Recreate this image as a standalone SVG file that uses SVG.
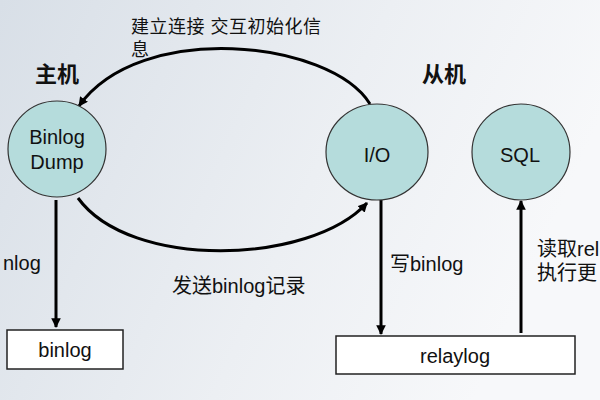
<svg xmlns="http://www.w3.org/2000/svg" width="600" height="400" viewBox="0 0 600 400">
<defs>
<linearGradient id="bg" x1="0" y1="0" x2="1" y2="0.3">
<stop offset="0" stop-color="#d8dfe7"/>
<stop offset="0.6" stop-color="#eceff3"/>
<stop offset="1" stop-color="#f7f8fa"/>
</linearGradient>
<marker id="ah" viewBox="0 0 10 10" refX="9" refY="5" markerWidth="3.2" markerHeight="3.2" orient="auto" markerUnits="strokeWidth">
<path d="M0,0 L10,5 L0,10 z" fill="#000"/>
</marker>
<style>
.node{fill:#b5dcdc;stroke:#333;stroke-width:1.2}
.box{fill:#fff;stroke:#222;stroke-width:1.5}
.t{font-family:"Liberation Sans","Noto Sans CJK SC",sans-serif;fill:#111}
.c{text-anchor:middle;font-size:20px}
.h{font-size:22px;font-weight:bold}
.edge{fill:none;stroke:#000;stroke-width:3}
</style>
</defs>
<rect width="600" height="400" fill="url(#bg)"/>
<g id="connectors">
<path class="edge" d="M370,104 C330,40 140,20 79,106" marker-end="url(#ah)"/>
<path class="edge" d="M78,198 C130,270 310,265 367,203" marker-end="url(#ah)"/>
<line class="edge" x1="56" y1="200" x2="56" y2="327" marker-end="url(#ah)"/>
<line class="edge" x1="381" y1="200" x2="381" y2="334" marker-end="url(#ah)"/>
<line class="edge" x1="521" y1="333" x2="521" y2="201" marker-end="url(#ah)"/>
</g>
<g id="dump">
<ellipse class="node" cx="57" cy="149" rx="49" ry="48"/>
<text class="t c" x="57" y="144">Binlog</text>
<text class="t c" x="57" y="169">Dump</text>
</g>
<g id="io">
<ellipse class="node" cx="377" cy="152" rx="51" ry="48"/>
<text class="t c" x="377" y="162">I/O</text>
</g>
<g id="sql">
<ellipse class="node" cx="521" cy="152" rx="49" ry="48"/>
<text class="t c" x="520" y="162">SQL</text>
</g>
<g id="binlog">
<rect class="box" x="7" y="330" width="116" height="39"/>
<text class="t c" x="65" y="357">binlog</text>
</g>
<g id="relaylog">
<rect class="box" x="336" y="336" width="239" height="38"/>
<text class="t c" x="455" y="363">relaylog</text>
</g>
<g id="labels">
<text class="t h" x="35" y="82">主机</text>
<text class="t h" x="422" y="82">从机</text>
<text class="t" x="131" y="33" font-size="18" letter-spacing="0.5">建立连接 交互初始化信</text>
<text class="t" x="131" y="56" font-size="18">息</text>
<text class="t" x="3" y="270" font-size="20">nlog</text>
<text class="t" x="172" y="293" font-size="20">发送binlog记录</text>
<text class="t" x="390" y="271" font-size="20">写binlog</text>
<text class="t" x="537" y="256" font-size="20">读取rel</text>
<text class="t" x="537" y="280" font-size="20">执行更</text>
</g>
</svg>
